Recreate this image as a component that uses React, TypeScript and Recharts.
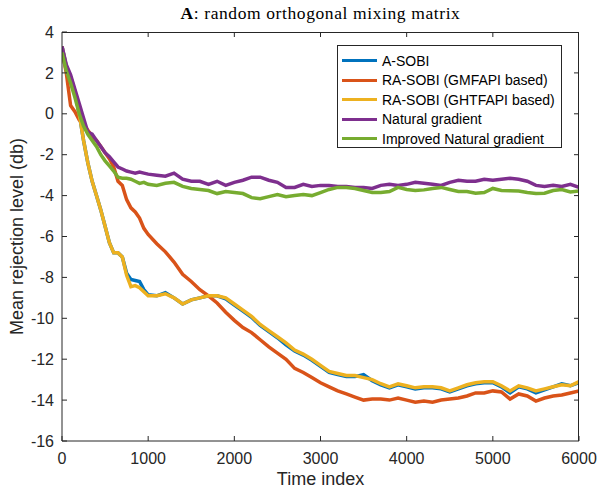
import React from 'react'
import { LineChart, Line, XAxis, YAxis } from 'recharts'

const timeIndex = [
  0, 50, 100, 150, 200, 250, 300, 350, 400, 450, 500, 550, 600, 650, 700, 750, 800, 850, 900, 950,
  1000, 1100, 1200, 1300, 1400, 1500, 1600, 1700, 1800, 1900, 2000, 2100, 2200, 2300, 2400, 2500,
  2600, 2700, 2800, 2900, 3000, 3100, 3200, 3300, 3400, 3500, 3600, 3700, 3800, 3900, 4000, 4100,
  4200, 4300, 4400, 4500, 4600, 4700, 4800, 4900, 5000, 5100, 5200, 5300, 5400, 5500, 5600, 5700,
  5800, 5900, 6000,
]

const aSobi = [
  3.3, 2.3, 1.8, 1.1, 0.0, -1.3, -2.4, -3.3, -4.0, -4.7, -5.5, -6.3, -6.8, -6.8, -7.0, -7.8, -8.1, -8.15, -8.2, -8.6,
  -8.85, -8.9, -8.75, -9.0, -9.3, -9.1, -9.0, -8.9, -8.9, -9.05, -9.35, -9.65, -9.95, -10.35, -10.65, -10.95,
  -11.3, -11.6, -11.8, -12.05, -12.35, -12.65, -12.75, -12.85, -12.85, -12.75, -13.05, -13.25, -13.4, -13.25, -13.35, -13.45,
  -13.4, -13.4, -13.45, -13.6, -13.45, -13.3, -13.2, -13.15, -13.15, -13.35, -13.65, -13.35, -13.45, -13.65, -13.5, -13.35,
  -13.2, -13.3, -13.15,
]

const raSobiGmfapi = [
  3.1, 2.0, 0.4, 0.1, -0.3, -0.5, -0.8, -1.1, -1.3, -1.6, -1.9, -2.2, -2.6, -3.3, -3.5, -4.2, -4.6, -4.8, -5.1, -5.6,
  -5.9, -6.35, -6.75, -7.25, -7.85, -8.2, -8.6, -8.9, -9.25, -9.7, -10.1, -10.45, -10.7, -11.05, -11.4, -11.7,
  -12.0, -12.45, -12.65, -12.9, -13.15, -13.35, -13.55, -13.7, -13.85, -14.0, -13.95, -13.95, -14.0, -13.9, -14.0, -14.1,
  -14.05, -14.1, -14.0, -13.95, -13.9, -13.8, -13.65, -13.65, -13.55, -13.6, -13.95, -13.7, -13.8, -14.05, -13.9, -13.8,
  -13.75, -13.65, -13.55,
]

const raSobiGhtfapi = [
  3.3, 2.3, 1.8, 1.1, 0.0, -1.3, -2.4, -3.3, -4.0, -4.7, -5.5, -6.3, -6.8, -6.8, -7.0, -7.9, -8.45, -8.4, -8.5, -8.7,
  -8.9, -8.9, -8.8, -9.0, -9.3, -9.1, -9.0, -8.9, -8.9, -9.0, -9.3, -9.6, -9.9, -10.3, -10.6, -10.9,
  -11.2, -11.55, -11.75, -12.0, -12.3, -12.6, -12.7, -12.8, -12.8, -12.9, -13.0, -13.2, -13.35, -13.2, -13.3, -13.4,
  -13.35, -13.35, -13.4, -13.55, -13.4, -13.25, -13.15, -13.1, -13.1, -13.3, -13.55, -13.3, -13.4, -13.55, -13.45, -13.35,
  -13.25, -13.3, -13.1,
]

const naturalGradient = [
  3.3, 2.4, 1.9, 1.2, 0.5, -0.2, -0.9, -1.0, -1.3, -1.6, -1.9, -2.1, -2.35, -2.6, -2.7, -2.8, -2.85, -2.9, -2.85, -2.9,
  -2.95, -3.0, -3.05, -2.9, -3.2, -3.3, -3.3, -3.45, -3.3, -3.5, -3.35, -3.25, -3.1, -3.1, -3.25, -3.35,
  -3.6, -3.6, -3.45, -3.55, -3.5, -3.5, -3.55, -3.55, -3.6, -3.6, -3.65, -3.5, -3.45, -3.5, -3.45, -3.35,
  -3.4, -3.45, -3.5, -3.35, -3.25, -3.3, -3.3, -3.2, -3.25, -3.2, -3.15, -3.2, -3.3, -3.5, -3.55, -3.5,
  -3.55, -3.45, -3.6,
]

const improvedNaturalGradient = [
  3.0, 2.1, 1.5, 0.8, 0.0, -0.6, -1.0, -1.3, -1.6, -2.0, -2.3, -2.55, -2.8, -3.1, -3.15, -3.15, -3.2, -3.3, -3.4, -3.35,
  -3.45, -3.5, -3.4, -3.35, -3.55, -3.65, -3.7, -3.75, -3.9, -3.8, -3.85, -3.9, -4.1, -4.15, -4.05, -3.95,
  -4.05, -4.0, -3.95, -4.0, -3.85, -3.7, -3.6, -3.6, -3.65, -3.75, -3.85, -3.85, -3.8, -3.6, -3.7, -3.75,
  -3.72, -3.65, -3.6, -3.7, -3.8, -3.8, -3.88, -3.85, -3.65, -3.75, -3.76, -3.78, -3.85, -3.9, -3.88, -3.75,
  -3.7, -3.82, -3.78,
]

const xTicks = [0, 1000, 2000, 3000, 4000, 5000, 6000]
const yTicks = [-16, -14, -12, -10, -8, -6, -4, -2, 0, 2, 4]
const X_MIN = 0
const X_MAX = 6000
const Y_MIN = -16
const Y_MAX = 4

const seriesNames = [
  'A-SOBI',
  'RA-SOBI (GMFAPI based)',
  'RA-SOBI (GHTFAPI based)',
  'Natural gradient',
  'Improved Natural gradient',
]
const seriesKeys = ['aSobi', 'raGm', 'raGh', 'ng', 'ing']
const seriesColors = ['#0072BD', '#D95319', '#EDB120', '#7E2F8E', '#77AC30']

const data = timeIndex.map((t, i) => ({
  t,
  aSobi: aSobi[i],
  raGm: raSobiGmfapi[i],
  raGh: raSobiGhtfapi[i],
  ng: naturalGradient[i],
  ing: improvedNaturalGradient[i],
}))

const axisColor = '#262626'
const font = '"Liberation Sans", Arial, sans-serif'

// chart box: margin + axis sizes give the plot rect
const W = 599
const H = 489
const M_TOP = 32
const M_RIGHT = 20
const Y_AXIS_W = 62
const X_AXIS_H = 48
const PLOT_L = Y_AXIS_W
const PLOT_T = M_TOP
const PLOT_W = W - Y_AXIS_W - M_RIGHT
const PLOT_H = H - M_TOP - X_AXIS_H

// box frame with the inward ticks on top and right (MATLAB "box on")
function BoxFrame() {
  const sx = (t: number) => PLOT_L + ((t - X_MIN) / (X_MAX - X_MIN)) * PLOT_W
  const sy = (v: number) => PLOT_T + ((Y_MAX - v) / (Y_MAX - Y_MIN)) * PLOT_H
  return (
    <svg
      width={W}
      height={H}
      style={{ position: 'absolute', left: 0, top: 0, pointerEvents: 'none' }}
    >
      <line x1={PLOT_L} y1={PLOT_T + 0.5} x2={PLOT_L + PLOT_W} y2={PLOT_T + 0.5} stroke={axisColor} />
      <line x1={PLOT_L + PLOT_W - 0.5} y1={PLOT_T} x2={PLOT_L + PLOT_W - 0.5} y2={PLOT_T + PLOT_H} stroke={axisColor} />
      {xTicks.slice(1, -1).map((t) => (
        <line key={'tx' + t} x1={sx(t)} y1={PLOT_T} x2={sx(t)} y2={PLOT_T + 5} stroke={axisColor} />
      ))}
      {yTicks.slice(1, -1).map((v) => (
        <line key={'ty' + v} x1={PLOT_L + PLOT_W} y1={sy(v)} x2={PLOT_L + PLOT_W - 5} y2={sy(v)} stroke={axisColor} />
      ))}
    </svg>
  )
}

function MatlabLegend() {
  return (
    <div
      style={{
        position: 'absolute',
        left: 337,
        top: 45,
        width: 225,
        height: 103,
        boxSizing: 'border-box',
        border: '1px solid #262626',
        background: '#fff',
        padding: '5px 0 0 4px',
        fontFamily: font,
        fontSize: 14,
        color: '#000',
      }}
    >
      {seriesNames.map((name, i) => (
        <div key={name} style={{ display: 'flex', alignItems: 'center', height: 19.5 }}>
          <span
            style={{
              display: 'inline-block',
              width: 35,
              height: 3,
              background: seriesColors[i],
              marginRight: 5,
            }}
          />
          <span>{name}</span>
        </div>
      ))}
    </div>
  )
}

export default function App() {
  return (
    <div style={{ position: 'absolute', left: 0, top: 0, width: W, height: H, background: '#fff' }}>
      <div
        style={{
          position: 'absolute',
          left: 62,
          width: 517,
          top: 3,
          textAlign: 'center',
          fontFamily: '"Liberation Serif", "DejaVu Serif", serif',
          fontSize: 17.5,
          letterSpacing: 0.6,
          color: '#000',
        }}
      >
        <b>A</b>: random orthogonal mixing matrix
      </div>
      <LineChart width={W} height={H} data={data} margin={{ top: M_TOP, right: M_RIGHT, bottom: 0, left: 0 }}>
        <XAxis
          dataKey="t"
          type="number"
          domain={[X_MIN, X_MAX]}
          ticks={xTicks}
          allowDataOverflow
          height={X_AXIS_H}
          tickSize={-5}
          tickMargin={17}
          stroke={axisColor}
          tick={{ fill: axisColor, fontSize: 16, fontFamily: font }}
          label={{ value: 'Time index', position: 'insideBottom', offset: 4, fill: axisColor, fontSize: 18, fontFamily: font }}
        />
        <YAxis
          type="number"
          domain={[Y_MIN, Y_MAX]}
          ticks={yTicks}
          allowDataOverflow
          width={Y_AXIS_W}
          tickSize={-5}
          tickMargin={13}
          stroke={axisColor}
          tick={{ fill: axisColor, fontSize: 16, fontFamily: font }}
          label={{
            value: 'Mean rejection level (db)',
            angle: -90,
            position: 'insideLeft',
            offset: 17,
            style: { textAnchor: 'middle' },
            fill: axisColor,
            fontSize: 18,
            fontFamily: font,
          }}
        />
        {seriesKeys.map((k, i) => (
          <Line
            key={k}
            dataKey={k}
            name={seriesNames[i]}
            stroke={seriesColors[i]}
            strokeWidth={3.5}
            dot={false}
            type="linear"
            isAnimationActive={false}
          />
        ))}
      </LineChart>
      <BoxFrame />
      <MatlabLegend />
    </div>
  )
}
